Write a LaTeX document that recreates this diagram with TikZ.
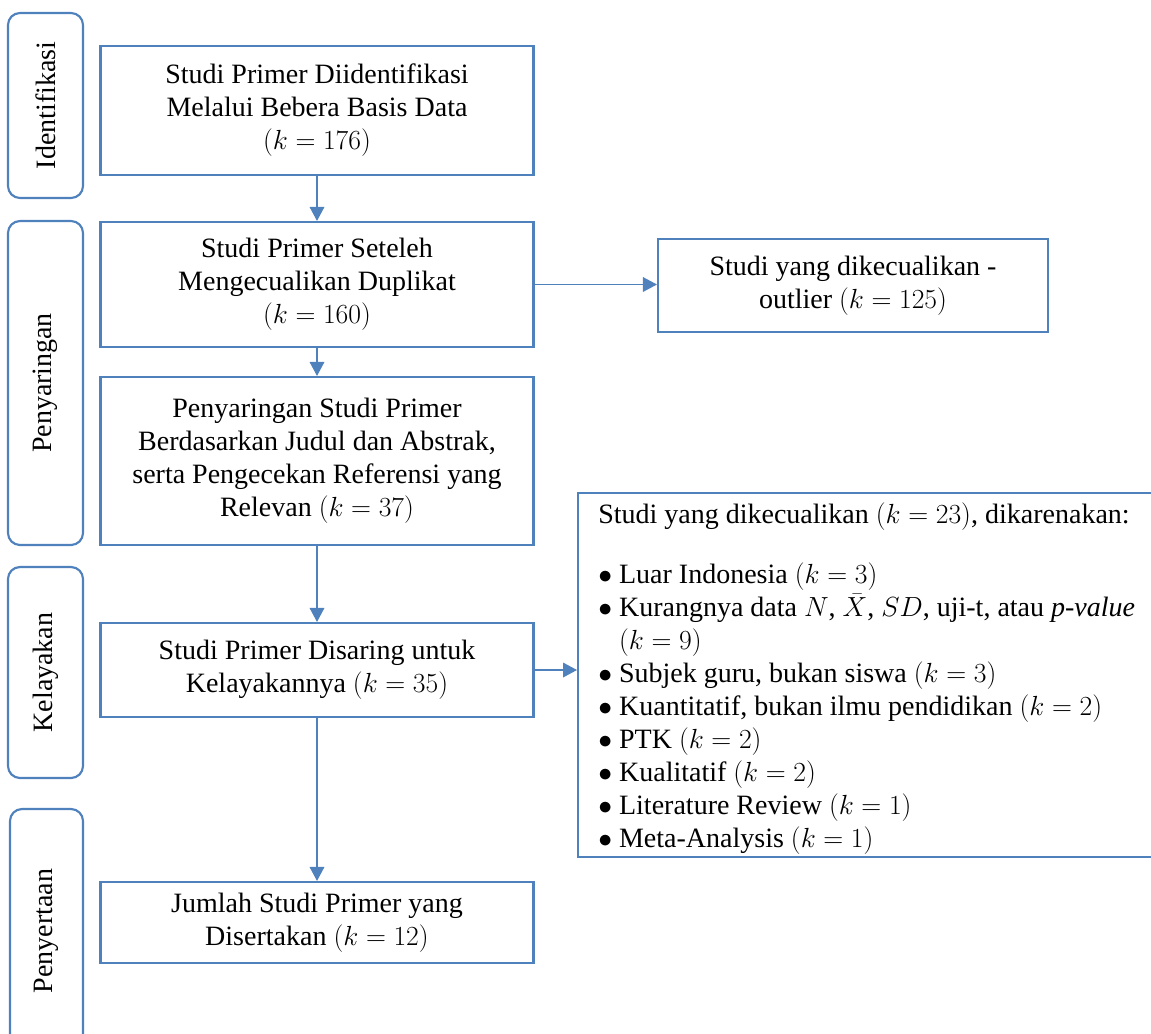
\documentclass[tikz,border=0pt]{standalone}
\usepackage{fontspec}
\setmainfont{Liberation Serif}
\usetikzlibrary{arrows.meta}
\definecolor{ob}{HTML}{4F81BD}
\begin{document}
\begin{tikzpicture}[x=0.75pt,y=-0.75pt,
  every node/.style={font=\fontsize{21}{24.75}\selectfont, text=black},
  mainbox/.style={draw=ob, line width=1.6pt, rectangle, minimum width=433*0.75pt, align=center, inner sep=0pt},
  sidebox/.style={draw=ob, line width=1.6pt, rounded corners=9pt, minimum width=75*0.75pt, inner sep=0pt},
  conn/.style={draw=ob, line width=0.9pt, -{Triangle[length=10.5pt,width=11pt]}},
  ]
\clip (0,0) rectangle (1151,1033);
\fill[white] (0,0) rectangle (1151,1033);

% side stage boxes
\node[sidebox, minimum height=185*0.75pt] (s1) at (45.5,105.5) {};
\node[rotate=90] (t1) at (s1.center) {Identifikasi};
\node[sidebox, minimum height=324*0.75pt] (s2) at (45.5,383) {};
\node[rotate=90] (t2) at (s2.center) {Penyaringan};
\node[sidebox, minimum height=211*0.75pt] (s3) at (45.5,672.5) {};
\node[rotate=90] (t3) at (s3.center) {Kelayakan};
\node[sidebox, minimum width=73*0.75pt, minimum height=260*0.75pt] (s4) at (46.5,939) {};
\node[rotate=90] (t4) at (46.5,931) {Penyertaan};

% main boxes
\node[mainbox, minimum height=129*0.75pt] (b1) at (317,110.5)
  {Studi Primer Diidentifikasi\\Melalui Bebera Basis Data\\$(k=176)$};
\node[mainbox, minimum height=125*0.75pt] (b2) at (317,284.5)
  {Studi Primer Seteleh\\Mengecualikan Duplikat\\$(k=160)$};
\node[mainbox, minimum height=168*0.75pt] (b3) at (317,461)
  {Penyaringan Studi Primer\\Berdasarkan Judul dan Abstrak,\\serta Pengecekan Referensi yang\\Relevan $(k=37)$};
\node[mainbox, minimum height=94*0.75pt] (b4) at (317,670)
  {Studi Primer Disaring untuk\\Kelayakannya $(k=35)$};
\node[mainbox, minimum height=81*0.75pt] (b5) at (317,922.5)
  {Jumlah Studi Primer yang\\Disertakan $(k=12)$};

% exclusion boxes
\node[mainbox, minimum width=390*0.75pt, minimum height=93*0.75pt] (o1) at (853,285.5)
  {Studi yang dikecualikan -\\outlier $(k=125)$};
\node[draw=ob, line width=1.6pt, rectangle, anchor=north west, minimum width=620*0.75pt,
      minimum height=364*0.75pt, inner sep=0pt] (ex) at (577,492) {};
\node[anchor=north west, align=left, inner sep=0pt] (ext) at (598,502)
  {Studi yang dikecualikan $(k=23)$, dikarenakan:\\[20.25pt]
   $\bullet$ Luar Indonesia $(k=3)$\\
   $\bullet$ Kurangnya data $N$, $\bar{X}$, $SD$, uji-t, atau \textit{p-value}\\
   \hphantom{$\bullet$ }$(k=9)$\\
   $\bullet$ Subjek guru, bukan siswa $(k=3)$\\
   $\bullet$ Kuantitatif, bukan ilmu pendidikan $(k=2)$\\
   $\bullet$ PTK $(k=2)$\\
   $\bullet$ Kualitatif $(k=2)$\\
   $\bullet$ Literature Review $(k=1)$\\
   $\bullet$ Meta-Analysis $(k=1)$};

% connectors
\draw[conn] (b1) -- (b2);
\draw[conn] (b2) -- (b3);
\draw[conn] (b3) -- (b4);
\draw[conn] (b4) -- (b5);
\draw[conn] (b2.east) -- (b2.east -| o1.west);
\draw[conn] (b4.east) -- (b4.east -| ex.west);
\end{tikzpicture}
\end{document}
